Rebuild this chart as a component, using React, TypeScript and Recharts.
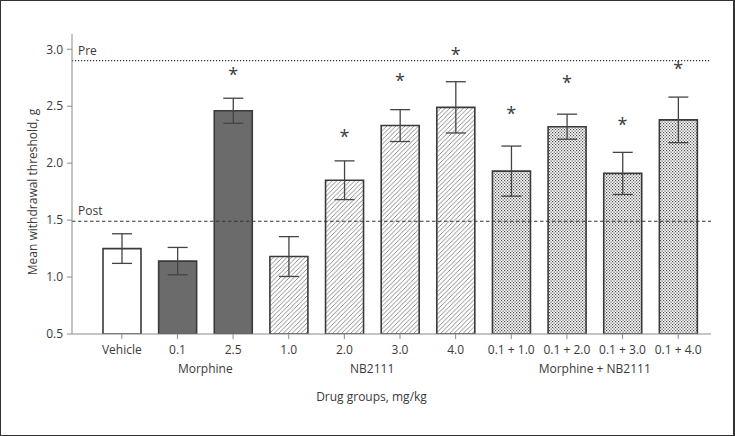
import React from "react";
import {
  ComposedChart,
  Bar,
  Cell,
  ErrorBar,
  Scatter,
  XAxis,
  YAxis,
  ReferenceLine,
  Label,
} from "recharts";

const categories = [
  "Vehicle",
  "0.1",
  "2.5",
  "1.0",
  "2.0",
  "3.0",
  "4.0",
  "0.1 + 1.0",
  "0.1 + 2.0",
  "0.1 + 3.0",
  "0.1 + 4.0",
];
const groups = [
  "",
  "Morphine",
  "Morphine",
  "NB2111",
  "NB2111",
  "NB2111",
  "NB2111",
  "Morphine + NB2111",
  "Morphine + NB2111",
  "Morphine + NB2111",
  "Morphine + NB2111",
];
const means = [1.25, 1.14, 2.46, 1.18, 1.85, 2.33, 2.49, 1.93, 2.32, 1.91, 2.38];
const sems = [0.13, 0.12, 0.11, 0.175, 0.17, 0.14, 0.225, 0.22, 0.11, 0.185, 0.2];
// where the significance asterisks sit, in g
const stars = [null, null, 2.8, null, 2.26, 2.75, 2.98, 2.46, 2.73, 2.36, 2.85];
const yTicks = [0.5, 1.0, 1.5, 2.0, 2.5, 3.0];
const preValue = 2.9;
const postValue = 1.49;

const FONT = "'Open Sans', sans-serif";
const TEXT = "#3a3a3a";

const data = categories.map((name, i) => ({
  name,
  group: groups[i],
  mean: means[i],
  err: sems[i],
  star: stars[i],
}));

const fillFor = (group: string) => {
  if (group === "Morphine") return "#6b6b6b";
  if (group === "NB2111") return "url(#hatch)";
  if (group === "Morphine + NB2111") return "url(#dots)";
  return "#ffffff";
};

const groupCount = (g: string) => groups.filter((x) => x === g).length;

const CategoryTick = (props: any) => {
  const { x, y, payload } = props;
  const i = payload.index;
  const g = groups[i];
  const firstOfGroup = g !== "" && (i === 0 || groups[i - 1] !== g);
  const half = payload.offset || 0;
  return (
    <g>
      <text
        x={x}
        y={y}
        dy="0.71em"
        textAnchor="middle"
        fontFamily={FONT}
        fontSize={12}
        fill={TEXT}
      >
        {payload.value}
      </text>
      {firstOfGroup && (
        <text
          x={x + (groupCount(g) - 1) * half}
          y={y + 19}
          dy="0.71em"
          textAnchor="middle"
          fontFamily={FONT}
          fontSize={12}
          fill={TEXT}
        >
          {g}
        </text>
      )}
    </g>
  );
};

const StarShape = (props: any) => {
  const { cx, cy, payload } = props;
  if (payload == null || payload.star == null) return null;
  return (
    <text
      x={cx}
      y={cy + 9}
      textAnchor="middle"
      fontFamily={FONT}
      fontSize={18}
      fill={TEXT}
    >
      *
    </text>
  );
};

export default function App() {
  return (
    <div
      style={{
        position: "fixed",
        left: 0,
        top: 0,
        width: 735,
        height: 436,
        boxSizing: "border-box",
        border: "1.5px solid #333",
        borderRightWidth: 2.5,
        background: "#fff",
      }}
    >
      <div style={{ position: "absolute", left: -1.5, top: -1.5 }}>
        <ComposedChart
          width={735}
          height={436}
          data={data}
          margin={{ top: 34, right: 24, bottom: 72, left: 12 }}
        >
          <defs>
            <pattern
              id="hatch"
              patternUnits="userSpaceOnUse"
              width={4.5}
              height={4.5}
            >
              <rect width={4.5} height={4.5} fill="#fff" />
              <path
                d="M-1,1 l2,-2 M0,4.5 l4.5,-4.5 M3.5,5.5 l2,-2"
                stroke="#777"
                strokeWidth={0.85}
              />
            </pattern>
            <pattern
              id="dots"
              patternUnits="userSpaceOnUse"
              width={3}
              height={3}
            >
              <rect width={3} height={3} fill="#fff" />
              <rect x={0} y={0} width={1.2} height={1.2} fill="#4a4a4a" />
              <rect x={1.5} y={1.5} width={1.2} height={1.2} fill="#4a4a4a" />
            </pattern>
          </defs>
          <XAxis
            dataKey="name"
            height={30}
            padding={{ left: 22, right: 5 }}
            stroke="#8a8a8a"
            tickLine={{ stroke: "#8a8a8a" }}
            tickSize={5}
            tickMargin={6}
            interval={0}
            tick={<CategoryTick />}
          >
            <Label
              content={(p: any) => {
                const vb = p.viewBox;
                return (
                  <text
                    x={vb.x + vb.width / 2 - 20}
                    y={vb.y + 58}
                    dy="0.71em"
                    textAnchor="middle"
                    fontFamily={FONT}
                    fontSize={12}
                    fill={TEXT}
                  >
                    Drug groups, mg/kg
                  </text>
                );
              }}
            />
          </XAxis>
          <YAxis
            width={60}
            domain={[0.5, 3.134]}
            ticks={yTicks}
            allowDataOverflow
            stroke="#8a8a8a"
            tickSize={5}
            tickMargin={4}
            tickFormatter={(v: number) => v.toFixed(1)}
            tick={{ fontFamily: FONT, fontSize: 12, fill: TEXT }}
          >
            <Label
              content={(p: any) => {
                const vb = p.viewBox;
                const cx = vb.x + 20;
                const cy = vb.y + vb.height / 2 + 8;
                return (
                  <text
                    x={cx}
                    y={cy}
                    transform={`rotate(-90 ${cx} ${cy})`}
                    textAnchor="middle"
                    dominantBaseline="central"
                    fontFamily={FONT}
                    fontSize={12}
                    fill={TEXT}
                  >
                    Mean withdrawal threshold, g
                  </text>
                );
              }}
            />
          </YAxis>
          <ReferenceLine
            y={preValue}
            stroke="#333"
            strokeWidth={1.2}
            strokeDasharray="1.2 1.8"
            label={(p: any) => (
              <text
                x={p.viewBox.x + 6}
                y={p.viewBox.y - 6}
                fontFamily={FONT}
                fontSize={12}
                fill={TEXT}
              >
                Pre
              </text>
            )}
          />
          <ReferenceLine
            y={postValue}
            stroke="#333"
            strokeWidth={1.2}
            strokeDasharray="3.5 2.5"
            label={(p: any) => (
              <text
                x={p.viewBox.x + 6}
                y={p.viewBox.y - 6}
                fontFamily={FONT}
                fontSize={12}
                fill={TEXT}
              >
                Post
              </text>
            )}
          />
          <Bar
            dataKey="mean"
            barSize={38}
            stroke="#3a3a3a"
            strokeWidth={1.6}
            isAnimationActive={false}
          >
            {data.map((d, i) => (
              <Cell key={i} fill={fillFor(d.group)} />
            ))}
            <ErrorBar
              dataKey="err"
              width={10}
              stroke="#444"
              strokeWidth={1.3}
              isAnimationActive={false}
            />
          </Bar>
          <Scatter
            dataKey="star"
            shape={<StarShape />}
            isAnimationActive={false}
          />
        </ComposedChart>
      </div>
    </div>
  );
}
